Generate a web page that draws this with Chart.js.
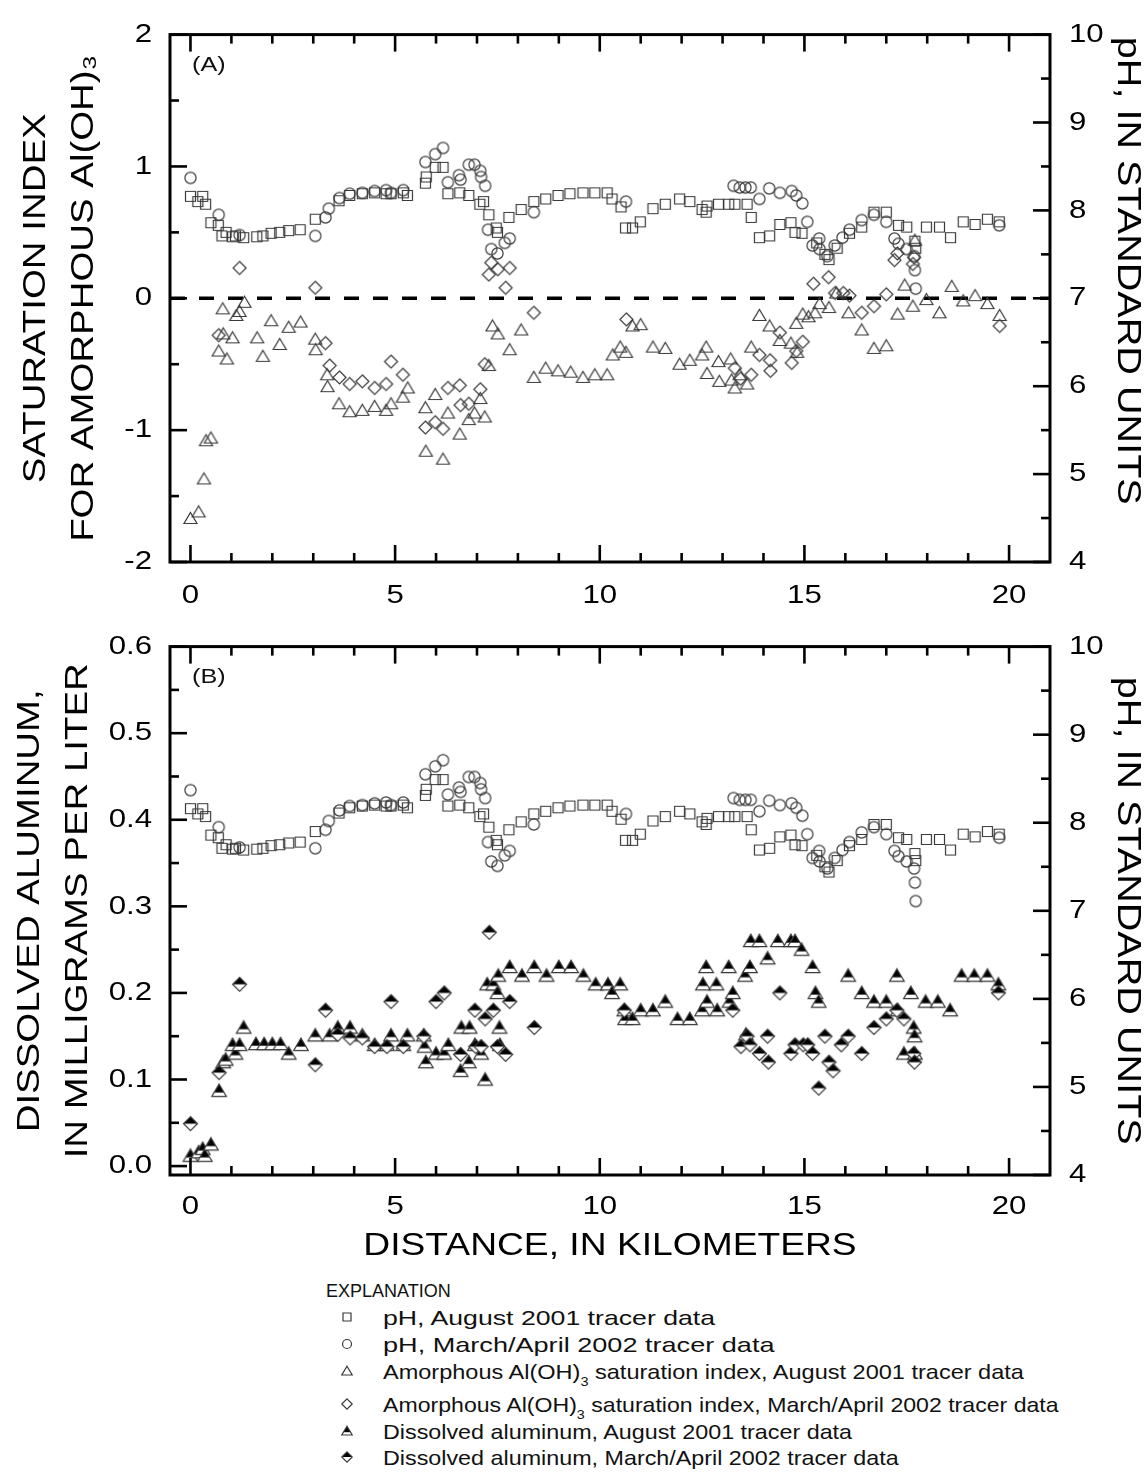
<!DOCTYPE html>
<html>
<head>
<meta charset="utf-8">
<script src="https://cdn.jsdelivr.net/npm/chart.js@4.4.0/dist/chart.umd.min.js"></script>
<style>
  html,body{margin:0;padding:0;background:#fff;}
  body{width:1145px;height:1475px;position:relative;overflow:hidden;font-family:"Liberation Sans",Arial,sans-serif;color:#111;}
  #cA{position:absolute;left:0;top:0;}
  #cB{position:absolute;left:0;top:612px;}
  .lg{position:absolute;white-space:nowrap;}
  .row{position:absolute;left:0;height:26px;width:1145px;}
  .row .sym{position:absolute;left:340px;top:5px;}
  .row .txt{position:absolute;left:383px;top:0;line-height:26px;font-size:21px;white-space:nowrap;transform-origin:left center;}
  sub{font-size:13px;vertical-align:-7px;line-height:0;}
</style>
</head>
<body>
<canvas id="cA" width="1145" height="612"></canvas>
<canvas id="cB" width="1145" height="658"></canvas>
<div class="lg" style="left:326px;top:1281px;font-size:18px;">EXPLANATION</div>
<div id="legendRows"></div>
<script>
// ---------------- DATA ----------------
// pH, August 2001 tracer data (km, pH)
const phAugKm = [0,0.18,0.3,0.37,0.5,0.68,0.77,0.87,1.03,1.1,1.3,1.62,1.77,1.97,2.18,2.4,2.68,3.05,3.63,3.89,4.2,4.5,4.78,4.9,5.2,5.3,5.74,5.76,5.98,6.17,6.29,6.58,6.8,7.07,7.16,7.29,7.47,7.5,7.78,8.08,8.39,8.68,8.98,9.27,9.59,9.88,10.18,10.3,10.52,10.63,10.8,10.99,11.3,11.6,11.95,12.2,12.5,12.6,12.62,12.9,13.15,13.3,13.6,13.7,13.9,14.15,14.4,14.67,14.77,14.94,15.3,15.5,15.6,15.8,16.1,16.4,16.7,17.0,17.3,17.5,17.7,17.72,17.98,18.3,18.57,18.88,19.17,19.47,19.76];
const phAug   = [8.16,8.10,8.16,8.07,7.86,7.83,7.71,7.75,7.70,7.71,7.69,7.70,7.71,7.74,7.75,7.77,7.78,7.90,8.11,8.17,8.19,8.20,8.19,8.19,8.20,8.17,8.31,8.38,8.49,8.49,8.19,8.20,8.17,8.07,8.10,7.95,7.80,7.75,7.92,8.01,8.10,8.13,8.17,8.19,8.20,8.20,8.20,8.13,8.04,7.80,7.80,7.87,8.02,8.07,8.13,8.10,8.01,7.98,8.05,8.07,8.07,8.07,8.07,7.92,7.69,7.71,7.84,7.86,7.75,7.74,7.63,7.50,7.44,7.57,7.74,7.81,7.98,7.98,7.83,7.81,7.65,7.57,7.81,7.81,7.69,7.87,7.84,7.90,7.87];
// pH, March/April 2002 tracer data
const phMarKm = [0,0.69,1.2,3.05,3.3,3.38,3.64,3.89,4.2,4.5,4.78,4.9,5.2,5.74,5.98,6.17,6.29,6.56,6.6,6.8,6.94,7.08,7.1,7.2,7.27,7.35,7.5,7.68,7.8,8.39,10.64,13.27,13.42,13.56,13.69,13.9,14.14,14.4,14.69,14.8,14.95,15.07,15.2,15.36,15.37,15.56,15.74,15.93,16.1,16.4,16.7,17.0,17.2,17.3,17.5,17.68,17.7,17.72,19.76];
const phMar   = [8.37,7.95,7.72,7.71,7.92,8.02,8.14,8.19,8.20,8.22,8.23,8.20,8.23,8.55,8.64,8.71,8.32,8.40,8.35,8.52,8.52,8.45,8.38,8.28,7.78,7.56,7.51,7.63,7.68,7.98,8.10,8.28,8.26,8.26,8.26,8.13,8.25,8.20,8.22,8.17,8.08,7.87,7.60,7.68,7.56,7.48,7.60,7.69,7.78,7.89,7.95,7.87,7.68,7.62,7.56,7.48,7.32,7.11,7.83];
// Amorphous Al(OH)3 saturation index, August 2001
const siAugKm = [0,0.2,0.33,0.38,0.5,0.69,0.79,0.8,0.89,1.03,1.12,1.2,1.32,1.63,1.77,1.97,2.18,2.4,2.69,3.05,3.06,3.34,3.35,3.63,3.89,4.2,4.5,4.78,4.9,5.19,5.31,5.74,5.75,5.98,6.17,6.29,6.58,6.8,6.94,7.08,7.19,7.29,7.38,7.51,7.8,8.08,8.39,8.68,8.98,9.29,9.59,9.88,10.18,10.32,10.5,10.64,10.8,11.0,11.3,11.6,11.95,12.2,12.5,12.6,12.62,12.9,12.92,13.2,13.22,13.3,13.42,13.6,13.7,13.9,14.15,14.4,14.67,14.8,14.82,14.96,15.1,15.26,15.37,15.6,15.78,16.08,16.4,16.7,17.0,17.28,17.45,17.65,17.7,17.98,18.3,18.6,18.88,19.17,19.47,19.77];
const siAug   = [-1.67,-1.62,-1.37,-1.08,-1.06,-0.40,-0.08,-0.27,-0.46,-0.30,-0.13,-0.10,-0.03,-0.30,-0.44,-0.17,-0.35,-0.22,-0.18,-0.31,-0.39,-0.58,-0.67,-0.80,-0.86,-0.85,-0.82,-0.85,-0.80,-0.75,-0.68,-0.83,-1.16,-0.73,-1.22,-0.87,-1.03,-0.92,-0.87,-0.76,-0.90,-0.51,-0.21,-0.27,-0.39,-0.24,-0.60,-0.53,-0.55,-0.56,-0.60,-0.58,-0.58,-0.43,-0.37,-0.41,-0.21,-0.20,-0.37,-0.38,-0.50,-0.47,-0.43,-0.37,-0.57,-0.48,-0.63,-0.46,-0.62,-0.68,-0.58,-0.65,-0.37,-0.13,-0.21,-0.32,-0.34,-0.19,-0.41,-0.12,-0.14,-0.11,-0.04,-0.07,0.04,-0.11,-0.24,-0.38,-0.36,-0.12,0.10,-0.06,0.44,-0.01,-0.11,0.09,-0.02,0.02,-0.04,-0.13];
// Amorphous Al(OH)3 saturation index, March/April 2002
const siMarKm = [0.69,1.2,3.05,3.3,3.4,3.64,3.89,4.2,4.5,4.78,4.9,5.19,5.74,5.98,6.17,6.29,6.58,6.6,6.8,7.08,7.19,7.29,7.35,7.51,7.7,7.8,8.39,10.65,13.3,13.44,13.7,13.9,14.16,14.17,14.4,14.69,14.8,14.96,15.22,15.59,15.75,15.95,16.1,16.4,16.7,17.0,17.2,17.27,17.65,17.68,19.77];
const siMar   = [-0.28,0.23,0.08,-0.34,-0.51,-0.60,-0.65,-0.63,-0.68,-0.65,-0.48,-0.58,-0.98,-0.94,-0.99,-0.68,-0.66,-0.81,-0.80,-0.69,-0.50,0.18,0.27,0.22,0.08,0.23,-0.11,-0.16,-0.53,-0.61,-0.58,-0.43,-0.47,-0.55,-0.26,-0.49,-0.40,-0.33,0.11,0.16,0.04,0.04,0.02,-0.11,-0.06,0.03,0.29,0.34,0.26,0.31,-0.21];
// Dissolved aluminum, August 2001 (mg/L)
const alAugKm = [0,0.2,0.3,0.35,0.5,0.7,0.8,0.86,1.03,1.1,1.2,1.3,1.6,1.8,2.0,2.2,2.4,2.7,3.05,3.4,3.6,3.9,4.2,4.5,4.8,4.9,5.2,5.3,5.7,5.72,5.75,6.0,6.2,6.3,6.6,6.62,6.8,6.82,6.95,7.1,7.2,7.25,7.4,7.5,7.52,7.55,7.56,7.8,8.1,8.4,8.7,9.0,9.3,9.6,9.9,10.2,10.3,10.5,10.6,10.62,10.8,11.0,11.3,11.6,11.9,12.2,12.5,12.52,12.6,12.62,12.85,12.87,13.15,13.17,13.25,13.55,13.57,13.67,13.69,13.9,14.1,14.35,14.67,14.77,14.93,15.2,15.27,15.35,16.07,16.4,16.7,17.0,17.26,17.28,17.43,17.6,17.67,17.69,17.7,17.96,18.26,18.56,18.84,19.15,19.47,19.74];
const alAug   = [0.012,0.016,0.02,0.012,0.025,0.087,0.12,0.123,0.14,0.13,0.14,0.16,0.141,0.141,0.141,0.141,0.13,0.14,0.151,0.151,0.16,0.16,0.151,0.14,0.14,0.151,0.14,0.151,0.151,0.138,0.12,0.13,0.13,0.14,0.11,0.16,0.12,0.16,0.14,0.13,0.10,0.21,0.21,0.20,0.22,0.16,0.14,0.23,0.22,0.23,0.22,0.23,0.23,0.22,0.21,0.21,0.20,0.21,0.18,0.17,0.17,0.18,0.18,0.19,0.17,0.17,0.18,0.21,0.23,0.19,0.21,0.18,0.23,0.19,0.20,0.22,0.152,0.23,0.26,0.26,0.24,0.26,0.26,0.26,0.25,0.23,0.20,0.19,0.22,0.20,0.19,0.19,0.22,0.18,0.13,0.20,0.16,0.15,0.13,0.19,0.19,0.18,0.22,0.22,0.22,0.21];
// Dissolved aluminum, March/April 2002 (mg/L)
const alMarKm = [0,0.7,1.2,3.05,3.3,3.6,3.9,4.2,4.5,4.8,4.9,5.2,5.7,6.0,6.2,6.6,6.95,6.97,7.1,7.2,7.3,7.4,7.5,7.7,7.8,8.4,10.6,13.25,13.45,13.6,13.67,13.9,14.1,14.12,14.4,14.67,14.77,14.97,15.08,15.2,15.35,15.5,15.6,15.7,15.9,16.07,16.4,16.7,17.0,17.26,17.43,17.67,17.69,19.74];
const alMar   = [0.049,0.108,0.21,0.117,0.18,0.152,0.148,0.148,0.138,0.138,0.19,0.138,0.15,0.19,0.20,0.129,0.18,0.138,0.138,0.17,0.27,0.18,0.138,0.129,0.19,0.16,0.18,0.18,0.138,0.15,0.14,0.13,0.15,0.12,0.20,0.13,0.14,0.14,0.14,0.13,0.09,0.15,0.12,0.11,0.14,0.15,0.13,0.16,0.17,0.18,0.17,0.13,0.12,0.20];

// Tick labels
const xTicks  = [0,5,10,15,20];
const xMinor  = [1,2,3,4,6,7,8,9,11,12,13,14,16,17,18,19];
const siTicks = [-2,-1,0,1,2];
const siMinor = [-1.5,-0.5,0.5,1.5];
const phTicks = [4,5,6,7,8,9,10];
const phMinor = [4.5,5.5,6.5,7.5,8.5,9.5];
const alTicks = [0,0.1,0.2,0.3,0.4,0.5,0.6];
const alMinor = [0.05,0.15,0.25,0.35,0.45,0.55];

// ---------------- helpers ----------------
const FONT = '"Liberation Sans", Arial, sans-serif';
const STRETCH = 1.2;
function pts(xs, ys){ return xs.map((x,i)=>({x:x, y:ys[i]})); }

function stretchCtx(canvas){
  const ctx = canvas.getContext('2d');
  const f = ctx.fillText;
  ctx.fillText = function(t, x, y, mw){
    this.save(); this.translate(x, y); this.scale(STRETCH, 1);
    if (mw === undefined || mw === null) f.call(this, t, 0, 0); else f.call(this, t, 0, 0, mw / STRETCH);
    this.restore();
  };
}

function marker(shape, half, s){
  s = s || 1;
  const W = Math.ceil(17*s);
  const c = document.createElement('canvas'); c.width = W; c.height = W;
  const g = c.getContext('2d'), m = W/2;
  g.lineWidth = 1.2; g.strokeStyle = '#3a3a3a';
  const path = () => {
    g.beginPath();
    if (shape === 'square'){ const h = 5*s; g.rect(m-h, m-h, 2*h, 2*h); }
    else if (shape === 'circle'){ g.arc(m, m, 5.6*s, 0, 2*Math.PI); }
    else if (shape === 'triangle'){ g.moveTo(m, m-6*s); g.lineTo(m+6.5*s, m+5*s); g.lineTo(m-6.5*s, m+5*s); g.closePath(); }
    else { g.moveTo(m, m-6.5*s); g.lineTo(m+6.5*s, m); g.lineTo(m, m+6.5*s); g.lineTo(m-6.5*s, m); g.closePath(); }
  };
  if (half){
    path(); g.fillStyle = '#fff'; g.fill();
    g.save(); path(); g.clip(); g.fillStyle = '#000';
    g.fillRect(0, 0, W, shape === 'triangle' ? m + 1.5*s : m); g.restore();
  }
  path(); g.stroke();
  return c;
}

const mk = {
  sq: marker('square'), ci: marker('circle'), tr: marker('triangle'), di: marker('diamond'),
  trH: marker('triangle', true, 1.12), diH: marker('diamond', true, 1.08)
};

const framePlugin = {
  id: 'frame',
  beforeDatasetsDraw(chart, args, o){
    if (o.zeroLine === undefined) return;
    const {ctx, chartArea: a, scales} = chart;
    const y = scales.y.getPixelForValue(o.zeroLine);
    ctx.save(); ctx.strokeStyle = '#000'; ctx.lineWidth = 3.5; ctx.setLineDash([15, 14]);
    ctx.beginPath(); ctx.moveTo(a.left, y); ctx.lineTo(a.right, y); ctx.stroke(); ctx.restore();
  },
  afterDatasetsDraw(chart, args, o){
    const {ctx, chartArea: a, scales} = chart;
    const xs = scales.x, yl = scales.y, yr = scales.yR;
    ctx.save(); ctx.strokeStyle = '#000'; ctx.lineWidth = 2.6;
    const seg = (x1,y1,x2,y2) => { ctx.beginPath(); ctx.moveTo(x1,y1); ctx.lineTo(x2,y2); ctx.stroke(); };
    const MJ = 17, MN = 9;
    o.xMajor.forEach(v => { const p = xs.getPixelForValue(v); seg(p, a.bottom, p, a.bottom-MJ); seg(p, a.top, p, a.top+MJ); });
    o.xMinor.forEach(v => { const p = xs.getPixelForValue(v); seg(p, a.bottom, p, a.bottom-MN); seg(p, a.top, p, a.top+MN); });
    o.lMajor.forEach(v => { const p = yl.getPixelForValue(v); seg(a.left, p, a.left+MJ, p); });
    o.lMinor.forEach(v => { const p = yl.getPixelForValue(v); seg(a.left, p, a.left+MN, p); });
    o.rMajor.forEach(v => { const p = yr.getPixelForValue(v); seg(a.right, p, a.right-MJ, p); });
    o.rMinor.forEach(v => { const p = yr.getPixelForValue(v); seg(a.right, p, a.right-MN, p); });
    ctx.lineWidth = 3; ctx.strokeRect(a.left, a.top, a.width, a.height);
    ctx.fillStyle = '#111'; ctx.font = '21px ' + FONT; ctx.textAlign = 'left'; ctx.textBaseline = 'middle';
    ctx.fillText(o.tag, a.left + 22, a.top + 31);
    ctx.restore();
  }
};

function setTicks(arr){ return s => { s.ticks = arr.map(v => ({value: v})); }; }
const tickFont = {family: FONT, size: 26};

function makeChart(canvas, cfg){
  stretchCtx(canvas);
  return new Chart(canvas.getContext('2d'), {
    type: 'scatter',
    data: { datasets: cfg.datasets },
    options: {
      responsive: false, animation: false, events: [],
      layout: { padding: { top: 27, left: 0, right: 0, bottom: 0 } },
      plugins: {
        legend: { display: false }, tooltip: { enabled: false },
        frame: cfg.frame
      },
      scales: {
        x: {
          type: 'linear', position: 'bottom', min: -0.5, max: 21,
          afterBuildTicks: setTicks(xTicks),
          afterFit: s => { s.height = cfg.xHeight; },
          grid: { display: false, drawTicks: false }, border: { display: false },
          ticks: { font: tickFont, color: '#000', padding: cfg.xPad, maxRotation: 0, autoSkip: false },
          title: cfg.xTitle || { display: false }
        },
        y: {
          type: 'linear', position: 'left', min: cfg.yMin, max: cfg.yMax,
          afterBuildTicks: setTicks(cfg.yTicks),
          afterFit: s => { s.width = 170; },
          grid: { display: false, drawTicks: false }, border: { display: false },
          ticks: { font: tickFont, color: '#000', padding: 18, callback: cfg.yFmt },
          title: cfg.yTitle
        },
        yR: {
          type: 'linear', position: 'right', min: 4, max: 10,
          afterBuildTicks: setTicks(phTicks),
          afterFit: s => { s.width = 95; },
          grid: { display: false, drawTicks: false }, border: { display: false },
          ticks: { font: tickFont, color: '#000', padding: 19 },
          title: { display: true, text: cfg.rTitle, color: '#000',
                   font: { family: FONT, size: 33, lineHeight: 1.1 }, padding: { top: 0, bottom: 0 } }
        }
      }
    },
    plugins: [framePlugin]
  });
}

function ds(label, xs, ys, style, axis){
  return { label: label, data: pts(xs, ys), pointStyle: style, pointRadius: 5, yAxisID: axis, showLine: false };
}

// Panel A
makeChart(document.getElementById('cA'), {
  datasets: [
    ds('SI Aug 2001', siAugKm, siAug, mk.tr, 'y'),
    ds('SI Mar/Apr 2002', siMarKm, siMar, mk.di, 'y'),
    ds('pH Aug 2001', phAugKm, phAug, mk.sq, 'yR'),
    ds('pH Mar/Apr 2002', phMarKm, phMar, mk.ci, 'yR')
  ],
  xHeight: 50, xPad: 18,
  yMin: -2, yMax: 2, yTicks: siTicks, yFmt: v => String(v),
  rTitle: 'pH, IN STANDARD UNITS     ',
  yTitle: { display: true, text: ['SATURATION INDEX', 'FOR AMORPHOUS Al(OH)\u2083'], color: '#000',
            font: { family: FONT, size: 32, lineHeight: 1.5 }, padding: { top: 12, bottom: 0 } },
  frame: { zeroLine: 0, tag: '(A)', xMajor: xTicks, xMinor: xMinor, lMajor: siTicks, lMinor: siMinor, rMajor: phTicks, rMinor: phMinor }
});

// Panel B
makeChart(document.getElementById('cB'), {
  datasets: [
    ds('pH Aug 2001', phAugKm, phAug, mk.sq, 'yR'),
    ds('pH Mar/Apr 2002', phMarKm, phMar, mk.ci, 'yR'),
    ds('Al Mar/Apr 2002', alMarKm, alMar, mk.diH, 'y'),
    ds('Al Aug 2001', alAugKm, alAug, mk.trH, 'y')
  ],
  xHeight: 95, xPad: 16,
  xTitle: { display: true, text: 'DISTANCE, IN KILOMETERS', color: '#000',
            font: { family: FONT, size: 31, lineHeight: 1.2 }, padding: { top: 0, bottom: 5 } },
  yMin: -0.0103, yMax: 0.6, yTicks: alTicks, yFmt: v => v.toFixed(1),
  rTitle: 'pH, IN STANDARD UNITS',
  yTitle: { display: true, text: ['DISSOLVED ALUMINUM,', 'IN MILLIGRAMS PER LITER'], color: '#000',
            font: { family: FONT, size: 32, lineHeight: 1.5 }, padding: { top: 6, bottom: 0 } },
  frame: { tag: '(B)', xMajor: xTicks, xMinor: xMinor, lMajor: alTicks, lMinor: alMinor, rMajor: phTicks, rMinor: phMinor }
});

// Legend (HTML)
const legendItems = [
  { sym: marker('square', false, 0.8), text: 'pH, August 2001 tracer data', y: 1318, sx: 1.27 },
  { sym: marker('circle', false, 0.8), text: 'pH, March/April 2002 tracer data', y: 1345, sx: 1.29 },
  { sym: marker('triangle', false, 0.8), text: 'Amorphous Al(OH)<sub>3</sub> saturation index, August 2001 tracer data', y: 1372, sx: 1.12 },
  { sym: marker('diamond', false, 0.8), text: 'Amorphous Al(OH)<sub>3</sub> saturation index, March/April 2002 tracer data', y: 1405, sx: 1.10 },
  { sym: marker('triangle', true, 0.8), text: 'Dissolved aluminum, August 2001 tracer data', y: 1432, sx: 1.11 },
  { sym: marker('diamond', true, 0.8), text: 'Dissolved aluminum, March/April 2002 tracer data', y: 1458, sx: 1.11 }
];
const holder = document.getElementById('legendRows');
legendItems.forEach(it => {
  const row = document.createElement('div'); row.className = 'row'; row.style.top = (it.y - 13) + 'px';
  it.sym.className = 'sym'; row.appendChild(it.sym);
  const t = document.createElement('span'); t.className = 'txt'; t.innerHTML = it.text;
  t.style.transform = 'scaleX(' + it.sx + ')';
  row.appendChild(t);
  holder.appendChild(row);
});
</script>
</body>
</html>
